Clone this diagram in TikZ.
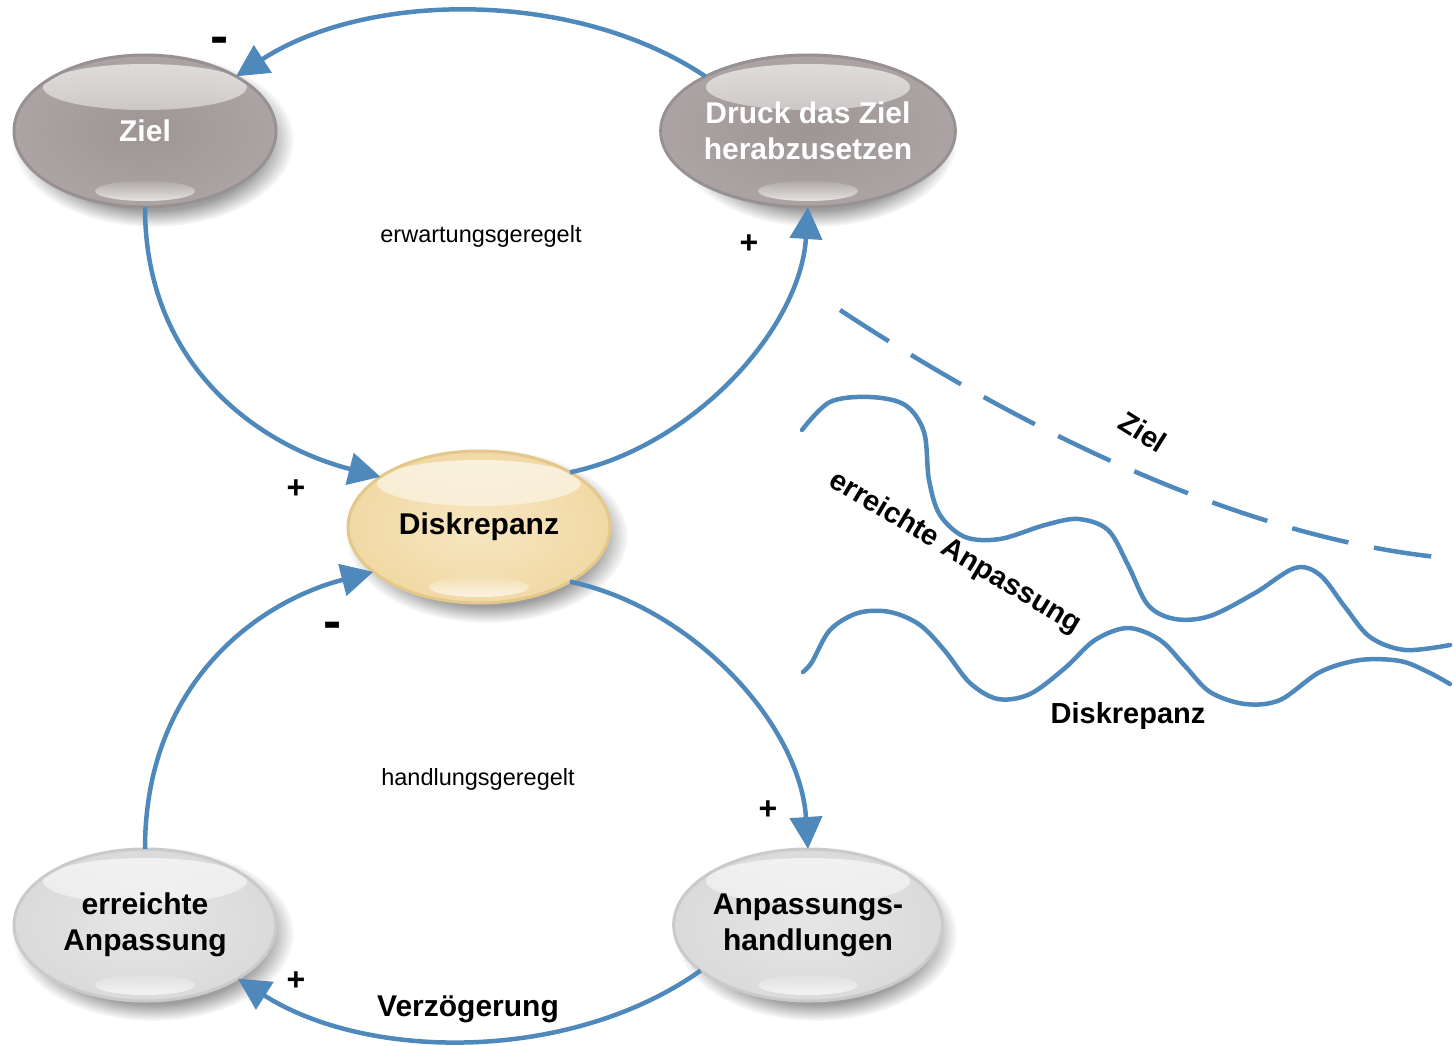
\documentclass[tikz,border=0pt]{standalone}
\usepackage{fontspec}
\usepackage{graphicx}
\setmainfont{Liberation Sans}
\usetikzlibrary{arrows.meta,shapes.geometric,fadings}

\definecolor{flowblue}{RGB}{79,137,188}
\definecolor{darkfill}{RGB}{172,164,164}
\definecolor{darkfillin}{RGB}{158,149,149}
\definecolor{darkrim}{RGB}{152,145,145}
\definecolor{warmfill}{RGB}{241,217,165}
\definecolor{warmfillin}{RGB}{247,230,192}
\definecolor{warmrim}{RGB}{228,199,138}
\definecolor{lightfill}{RGB}{218,218,218}
\definecolor{lightfillin}{RGB}{230,230,230}
\definecolor{lightrim}{RGB}{202,202,202}

% soft highlights for the glossy bubbles
\tikzfading[name=glossdown, top color=transparent!35, bottom color=transparent!88]
\tikzfading[name=glossup, top color=transparent!90, bottom color=transparent!30]

\tikzset{
  bubble/.style={ellipse, minimum width=262pt, minimum height=152pt,
    inner sep=0pt, outer sep=0pt, line width=3pt, align=center,
    font=\fontsize{30}{36}\selectfont\bfseries,
    path picture={
      \fill[white, path fading=glossdown]
        ([yshift=44pt]path picture bounding box.center)
        ellipse [x radius=102pt, y radius=23pt];
      \fill[white, path fading=glossup]
        ([yshift=-60pt]path picture bounding box.center)
        ellipse [x radius=50pt, y radius=10pt];
    }},
  darkbubble/.style={bubble, draw=darkrim, inner color=darkfillin,
    outer color=darkfill, text=white},
  warmbubble/.style={bubble, draw=warmrim, inner color=warmfillin,
    outer color=warmfill, text=black},
  lightbubble/.style={bubble, draw=lightrim, inner color=lightfillin,
    outer color=lightfill, text=black},
  shadowblob/.style={fill=black, opacity=0.38,
    path fading=circle with fuzzy edge 20 percent},
  flow/.style={draw=flowblue, line width=4.5pt,
    -{Triangle[length=32pt,width=32pt]}},
  wave/.style={draw=flowblue, line width=4.5pt, line cap=round},
  sign/.style={font=\fontsize{32}{32}\selectfont\bfseries},
  loopnote/.style={font=\fontsize{23.5}{28}\selectfont},
  bigcaption/.style={font=\fontsize{30}{36}\selectfont\bfseries},
  wavelabel/.style={font=\fontsize{29}{34}\selectfont\bfseries}
}

\newcommand\castshadow[1]{%
  \fill[shadowblob, shift={(8,9)}] (#1) ellipse [x radius=141pt, y radius=87pt];}
% a heavier minus sign for the polarity marks
\newcommand\heavyminus{\scalebox{1.7}[1.6]{-}}

\begin{document}
\begin{tikzpicture}[x=1pt, y=-1pt]
\useasboundingbox (0,0) rectangle (1454,1046);

% bubbles
\castshadow{145,131}
\node[darkbubble] (ziel) at (145,131) {Ziel};
\castshadow{808,131}
\node[darkbubble] (druck) at (808,131) {Druck das Ziel\\herabzusetzen};
\castshadow{479,527}
\node[warmbubble] (disk) at (479,527) {Diskrepanz};
\castshadow{145,925}
\node[lightbubble] (ert) at (145,925) {erreichte\\Anpassung};
\castshadow{808,925}
\node[lightbubble] (anp) at (808,925) {Anpassungs-\\handlungen};

% expectation-driven loop
\draw[flow] (druck.152) .. controls (577,-10) and (369,-10) .. (ziel.31);
\draw[flow] (ziel.south) .. controls (145,370) and (264,447) .. (disk.153);
\draw[flow] (disk.31) .. controls (692,447) and (800,330) .. (druck.south);

% action-driven loop
\draw[flow] (disk.-31) .. controls (692,607) and (800,724) .. (anp.north);
\draw[flow] (anp.203) .. controls (572,1062) and (369,1062) .. (ert.-30);
\draw[flow] (ert.north) .. controls (145,684) and (257,602) .. (disk.203);

% polarity signs
\node[sign] (s1) at (220,45) {\heavyminus};
\node[sign] (s2) at (749,244) {+};
\node[sign] (s3) at (296,489) {+};
\node[sign] (s4) at (333,630) {\heavyminus};
\node[sign] (s5) at (768,810) {+};
\node[sign] (s6) at (296,981) {+};

% loop captions
\node[loopnote] (expnote) at (481,236) {erwartungsgeregelt};
\node[loopnote] (actnote) at (478,779) {handlungsgeregelt};
\node[bigcaption] (delay) at (468,1009) {Verzögerung};

% time-course sketch
\draw[wave, line cap=butt, dash pattern=on 58pt off 26pt]
  (840,310) .. controls (1030,435) and (1250,540) .. (1447,558);
\draw[wave] plot[smooth, tension=0.55] coordinates {
  (802,430) (830,402) (870,397) (905,405) (924,432) (929,480) (940,515)
  (965,537) (1000,539) (1045,525) (1078,519) (1108,530) (1128,565)
  (1148,605) (1175,619) (1210,616) (1255,593) (1295,568) (1320,575)
  (1345,607) (1370,637) (1405,650) (1450,645)};
\draw[wave] plot[smooth, tension=0.55] coordinates {
  (803,672) (812,662) (830,630) (858,613) (890,612) (920,625) (945,651)
  (970,683) (998,699) (1030,694) (1065,668) (1095,640) (1128,628)
  (1160,640) (1185,666) (1210,692) (1245,704) (1280,700) (1320,672)
  (1360,660) (1400,661) (1428,672) (1450,684)};

\node[wavelabel, rotate=-32] (zlabel) at (1143,432) {Ziel};
\node[wavelabel, rotate=-31] (alabel) at (955,553) {erreichte Anpassung};
\node[wavelabel] (dlabel) at (1128,716) {Diskrepanz};
\end{tikzpicture}
\end{document}
